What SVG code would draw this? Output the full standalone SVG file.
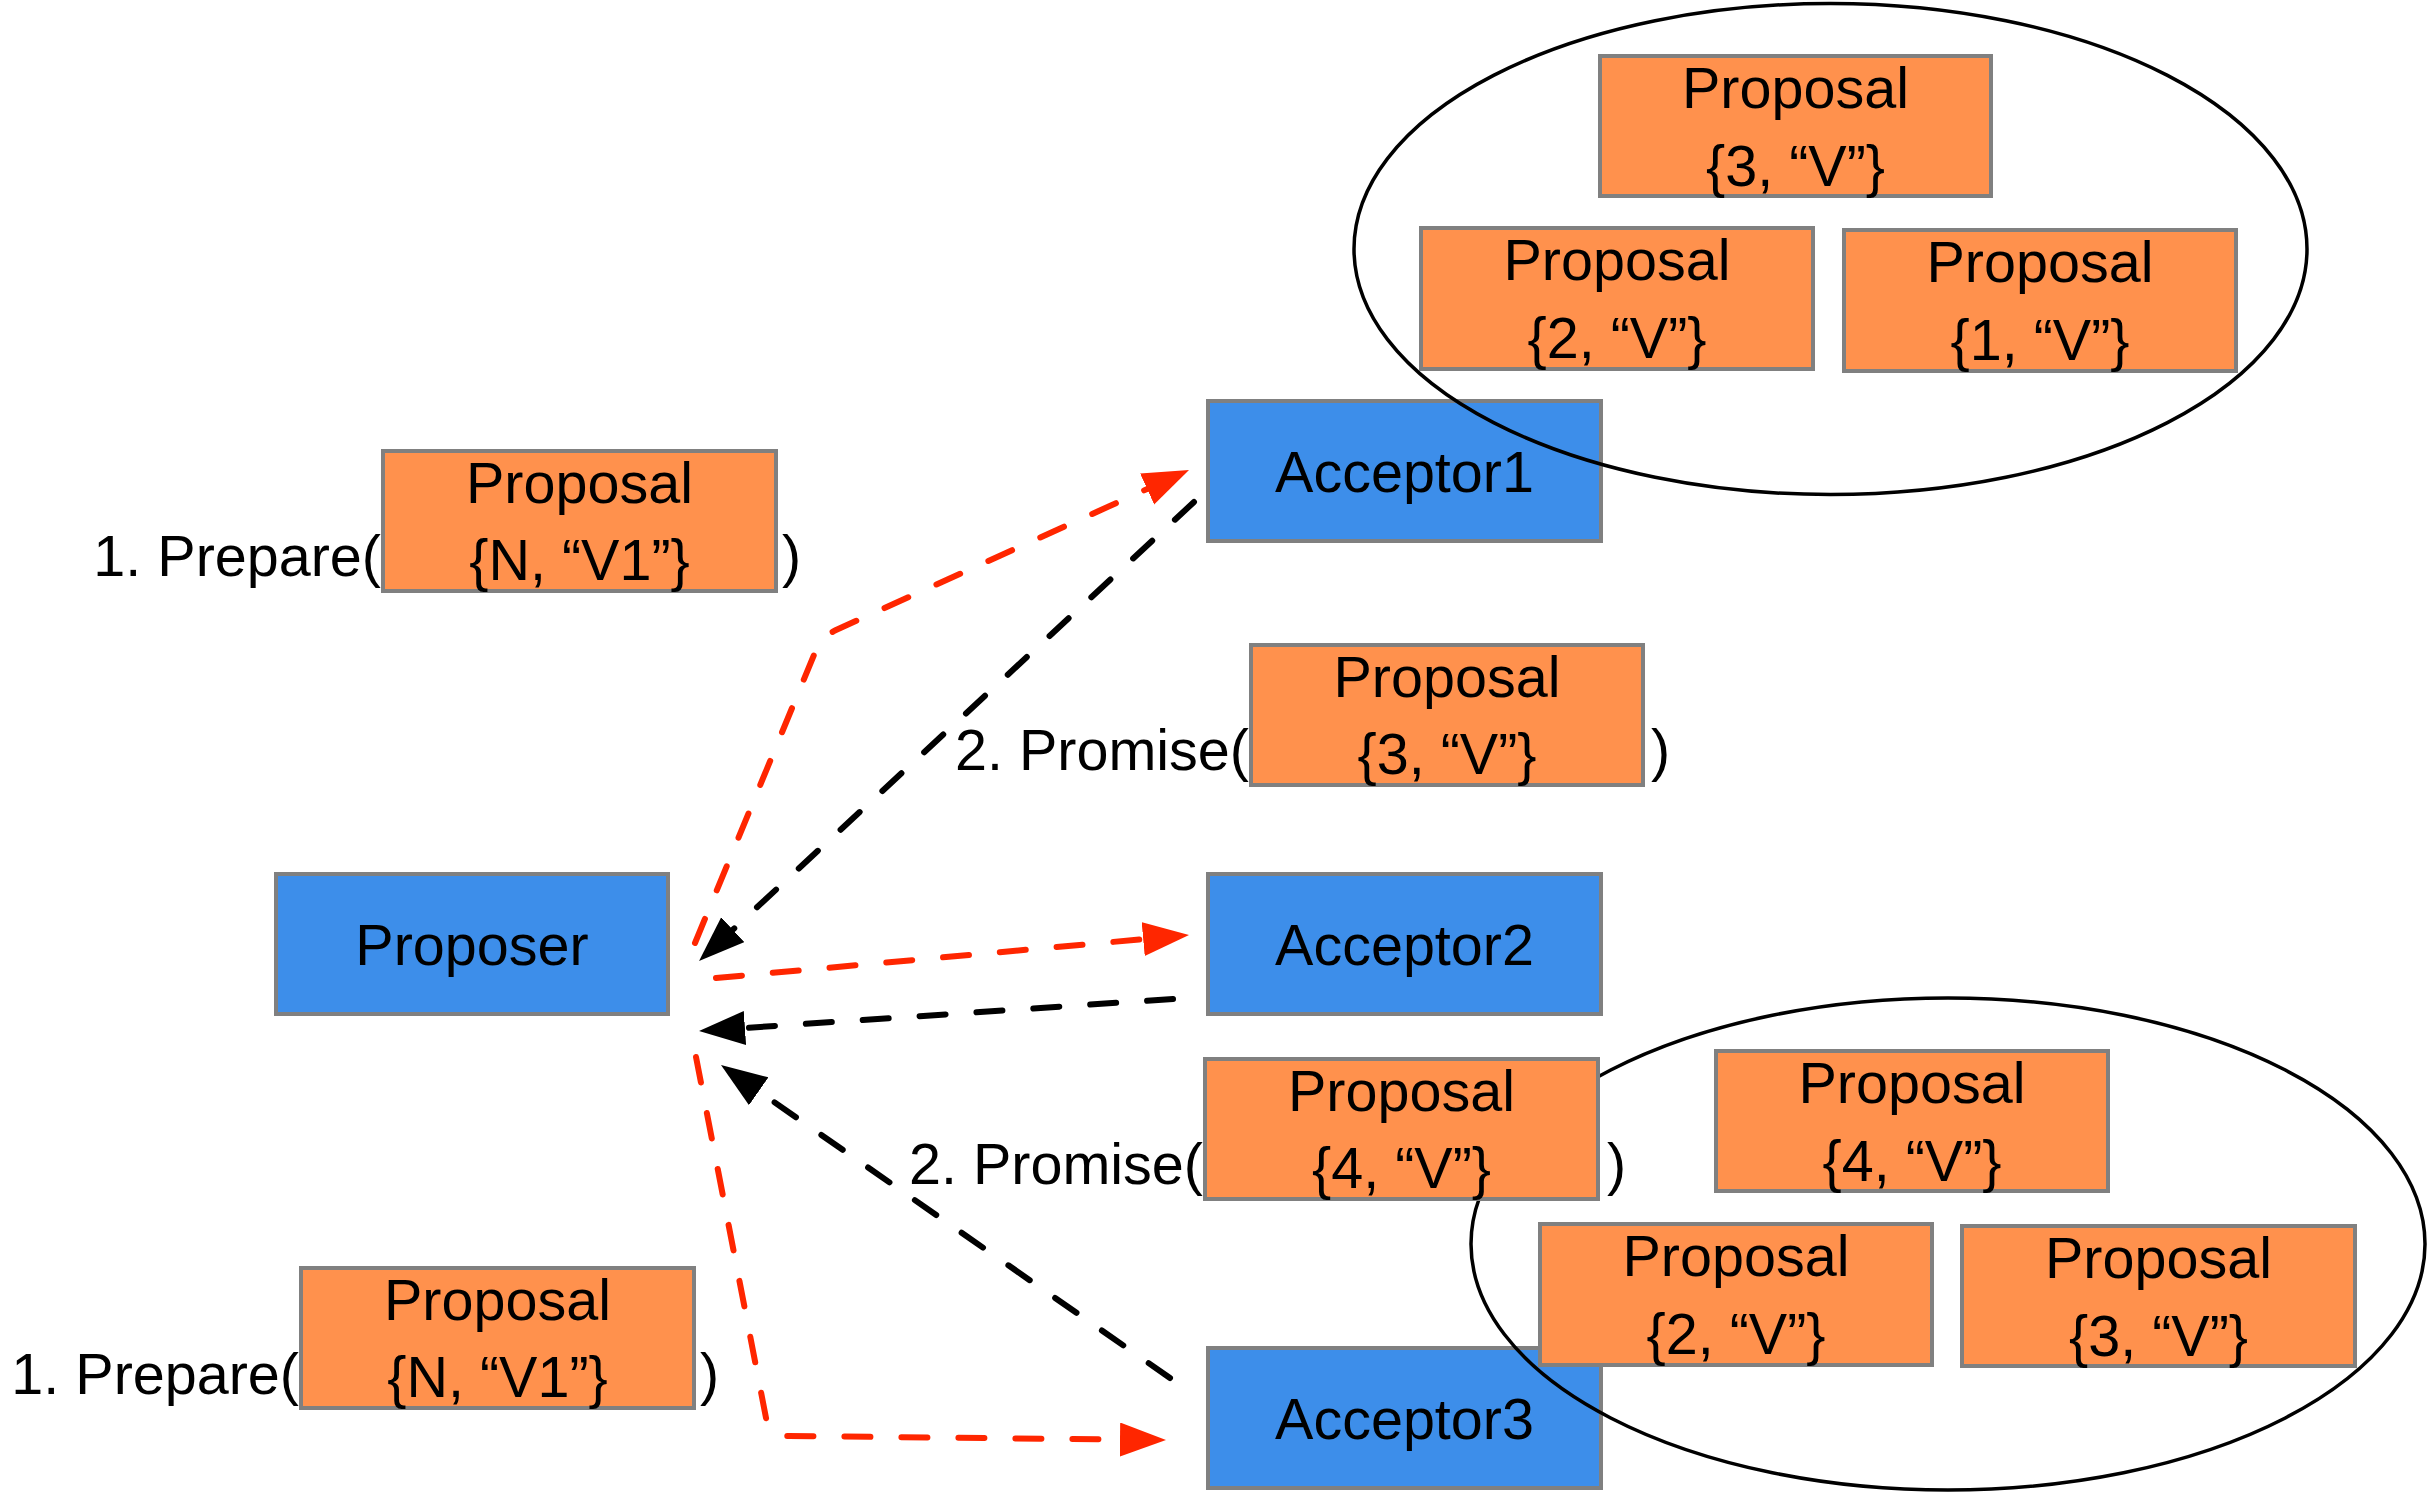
<svg xmlns="http://www.w3.org/2000/svg" width="2428" height="1493" viewBox="0 0 2428 1493">
<style>
text { font-family: "Liberation Sans", Arial, Helvetica, sans-serif; font-size: 57.5px; fill: #000; }
.c { text-anchor: middle; }
.e { text-anchor: end; }
.blue { fill: #3D8EEA; stroke: #808080; stroke-width: 4; }
.org { fill: #FF914D; stroke: #808080; stroke-width: 4; }
.ell { fill: none; stroke: #000; stroke-width: 3.5; }
.red { fill: none; stroke: #FF2600; stroke-width: 6; stroke-dasharray: 26 31; stroke-linecap: round; stroke-linejoin: round; }
.blk { fill: none; stroke: #000; stroke-width: 6; stroke-dasharray: 26 31; stroke-linecap: round; stroke-linejoin: round; }
</style>
<defs>
<marker id="ar" markerUnits="userSpaceOnUse" markerWidth="50" markerHeight="40" refX="26" refY="17" orient="auto">
<path d="M0,0 L46,17 L0,34 z" fill="#FF2600"/>
</marker>
<marker id="ab" markerUnits="userSpaceOnUse" markerWidth="50" markerHeight="40" refX="26" refY="17" orient="auto">
<path d="M0,0 L46,17 L0,34 z" fill="#000"/>
</marker>
</defs>

<g id="acceptor1"><rect class="blue" x="1208" y="401" width="393" height="140"/><text class="c" x="1404.5" y="492">Acceptor1</text></g>
<g id="acceptor2"><rect class="blue" x="1208" y="874" width="393" height="140"/><text class="c" x="1404.5" y="965">Acceptor2</text></g>
<g id="acceptor3"><rect class="blue" x="1208" y="1348" width="393" height="140"/><text class="c" x="1404.5" y="1439">Acceptor3</text></g>
<g id="proposer"><rect class="blue" x="276" y="874" width="392" height="140"/><text class="c" x="472" y="965">Proposer</text></g>

<g id="acceptor1-store">
<ellipse class="ell" cx="1830.5" cy="249" rx="476.5" ry="245.5"/>
<g id="a1-p3"><rect class="org" x="1600" y="56" width="391" height="140"/><text class="c" x="1795.5" y="108">Proposal</text><text class="c" x="1795.5" y="186">{3, “V”}</text></g>
<g id="a1-p2"><rect class="org" x="1421" y="228" width="392" height="141"/><text class="c" x="1617" y="280">Proposal</text><text class="c" x="1617" y="358">{2, “V”}</text></g>
<g id="a1-p1"><rect class="org" x="1844" y="230" width="392" height="141"/><text class="c" x="2040" y="282">Proposal</text><text class="c" x="2040" y="360">{1, “V”}</text></g>
</g>

<g id="acceptor3-store">
<ellipse class="ell" cx="1948" cy="1244" rx="477" ry="246"/>
<g id="a3-p4"><rect class="org" x="1716" y="1051" width="392" height="140"/><text class="c" x="1912" y="1103">Proposal</text><text class="c" x="1912" y="1181">{4, “V”}</text></g>
<g id="a3-p2"><rect class="org" x="1540" y="1224" width="392" height="141"/><text class="c" x="1736" y="1276">Proposal</text><text class="c" x="1736" y="1354">{2, “V”}</text></g>
<g id="a3-p3"><rect class="org" x="1962" y="1226" width="393" height="140"/><text class="c" x="2158.5" y="1278">Proposal</text><text class="c" x="2158.5" y="1356">{3, “V”}</text></g>
</g>

<g id="prepare-top">
<text class="e" x="381" y="576">1. Prepare(</text>
<rect class="org" x="383" y="451" width="393" height="140"/><text class="c" x="579.5" y="503">Proposal</text><text class="c" x="579.5" y="580">{N, “V1”}</text>
<text x="782" y="576">)</text>
</g>
<g id="prepare-bottom">
<text class="e" x="299" y="1394">1. Prepare(</text>
<rect class="org" x="301" y="1268" width="393" height="140"/><text class="c" x="497.5" y="1320">Proposal</text><text class="c" x="497.5" y="1397">{N, “V1”}</text>
<text x="700" y="1394">)</text>
</g>
<g id="promise-1">
<text class="e" x="1249" y="770">2. Promise(</text>
<rect class="org" x="1251" y="645" width="392" height="140"/><text class="c" x="1447" y="697">Proposal</text><text class="c" x="1447" y="774">{3, “V”}</text>
<text x="1651" y="770">)</text>
</g>
<g id="promise-2">
<text class="e" x="1203" y="1184">2. Promise(</text>
<rect class="org" x="1205" y="1059" width="393" height="140"/><text class="c" x="1401.5" y="1111">Proposal</text><text class="c" x="1401.5" y="1188">{4, “V”}</text>
<text x="1607" y="1184">)</text>
</g>

<g id="connectors">
<path class="red" d="M695,943 L816,650 Q822,637 836,630 L1170.8,478.3" marker-end="url(#ar)"/>
<path class="blk" d="M1194,502 L713.7,947.4" marker-end="url(#ab)"/>
<path class="red" d="M716,978 L1169.1,936.8" marker-end="url(#ar)"/>
<path class="blk" d="M1173,999 L719,1029.7" marker-end="url(#ab)"/>
<path class="red" d="M696,1057 L767,1423 Q770,1436 789,1436 L1146,1439.8" marker-end="url(#ar)"/>
<path class="blk" d="M1170,1378 L737.4,1076.4" marker-end="url(#ab)"/>
</g>
</svg>
